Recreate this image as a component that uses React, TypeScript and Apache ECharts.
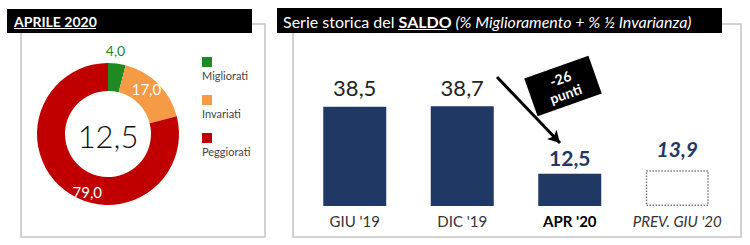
import React, { useEffect, useRef } from "react";
import * as echarts from "echarts";

const FONT = "Lato, 'Open Sans', sans-serif";

// Donut data
const pieNames = ["Migliorati", "Invariati", "Peggiorati"];
const pieValues = [4.0, 17.0, 79.0];
const pieColors = ["#1E8A22", "#F59A45", "#C00000"];

// Bar data
const barCategories = ["GIU '19", "DIC '19", "APR '20", "PREV. GIU '20"];
const barValues = [38.5, 38.7, 12.5, 13.9];
const saldoCentre = 12.5;
const deltaLabel = ["-26", "punti"];

const fmt = (v: number) => v.toFixed(1).replace(".", ",");

export default function App() {
  const ref = useRef<HTMLDivElement>(null);
  useEffect(() => {
    if (!ref.current) return;
    const chart = echarts.init(ref.current, null, { renderer: "svg" });
    const navy = "#1F3864";

    const legendGraphics: any[] = [];
    pieNames.forEach((n, i) => {
      legendGraphics.push({
        type: "rect",
        shape: { x: 202, y: 57 + i * 38, width: 10, height: 10 },
        style: { fill: pieColors[i] },
      });
      legendGraphics.push({
        type: "text",
        x: 202,
        y: 75 + i * 38,
        style: {
          text: n,
          fill: "#444",
          font: `11px ${FONT}`,
          textAlign: "left",
          textVerticalAlign: "middle",
        },
      });
    });

    const option: any = {
      animation: false,
      textStyle: { fontFamily: FONT },
      grid: { left: 301, right: 19, top: 77, bottom: 39 },
      xAxis: {
        type: "category",
        data: barCategories.map((c, i) => ({
          value: c,
          textStyle:
            i === 2
              ? { fontWeight: "bold", color: "#000" }
              : i === 3
              ? { fontStyle: "italic", color: "#333" }
              : { color: "#333" },
        })),
        axisLine: { show: false },
        axisTick: { show: false },
        axisLabel: { fontSize: 15, margin: 7, fontFamily: FONT, interval: 0 },
      },
      yAxis: { type: "value", min: 0, max: 50, show: false, splitLine: { show: false } },
      series: [
        {
          type: "bar",
          barWidth: 63,
          data: barValues.map((v, i) => {
            if (i === 3) {
              return {
                value: v,
                itemStyle: { color: "#fff", borderColor: "#777", borderType: "dotted", borderWidth: 1.5 },
                label: { color: navy, fontWeight: "bold", fontStyle: "italic", fontSize: 21, distance: 11 },
              };
            }
            if (i === 2) {
              return {
                value: v,
                itemStyle: { color: navy },
                label: { color: navy, fontWeight: "bold", fontSize: 21, distance: 6 },
              };
            }
            return { value: v, itemStyle: { color: navy } };
          }),
          label: {
            show: true,
            position: "top",
            distance: 8,
            fontSize: 22,
            color: "#222",
            fontFamily: FONT,
            formatter: (p: any) => fmt(p.value),
          },
          markLine: {
            silent: true,
            symbol: ["none", "arrow"],
            symbolSize: [10, 12],
            label: { show: false },
            lineStyle: { color: "#000", width: 3, type: "solid" },
            data: [[{ x: 497, y: 77 }, { x: 560, y: 143 }]],
          },
        },
        {
          type: "pie",
          center: [108, 134],
          radius: [43, 71],
          startAngle: 90,
          clockwise: true,
          silent: true,
          data: pieNames.map((n, i) => ({
            name: n,
            value: pieValues[i],
            itemStyle: { color: pieColors[i] },
            label:
              i === 0
                ? { color: pieColors[0], fontSize: 14 }
                : { color: "#fff", fontSize: 15 },
          })),
          label: {
            show: true,
            position: "inside",
            fontFamily: FONT,
            formatter: (p: any) => fmt(p.value),
          },
          labelLine: { show: false },
          labelLayout: (p: any) => {
            if (p.dataIndex === 0) return { dy: -24 };
            if (p.dataIndex === 1) return { dx: -4, dy: -3 };
            if (p.dataIndex === 2) return { dx: 16, dy: 11 };
            return {};
          },
        },
      ],
      graphic: [
        // panel borders
        {
          type: "rect",
          shape: { x: 21, y: 24, width: 244, height: 213 },
          style: { fill: "none", stroke: "#c4c4c4", lineWidth: 1.5 },
          z: 0,
        },
        {
          type: "rect",
          shape: { x: 293, y: 24, width: 448, height: 213 },
          style: { fill: "none", stroke: "#c4c4c4", lineWidth: 1.5 },
          z: 0,
        },
        // headers
        {
          type: "rect",
          shape: { x: 7, y: 9, width: 245, height: 24 },
          style: { fill: "#000" },
          z: 1,
        },
        {
          type: "text",
          x: 14,
          y: 21,
          z: 2,
          style: {
            text: "APRILE 2020",
            fill: "#fff",
            font: `bold 14px ${FONT}`,
            textVerticalAlign: "middle",
          },
        },
        {
          type: "line",
          shape: { x1: 14, y1: 28.5, x2: 96, y2: 28.5 },
          style: { stroke: "#fff", lineWidth: 1 },
          z: 2,
        },
        {
          type: "rect",
          shape: { x: 277, y: 8, width: 445, height: 25 },
          style: { fill: "#000" },
          z: 1,
        },
        {
          type: "text",
          x: 283,
          y: 21,
          z: 2,
          style: {
            text: "{n|Serie storica del }{b|SALDO}{i| (% Miglioramento + % ½ Invarianza)}",
            textVerticalAlign: "middle",
            rich: {
              n: { fill: "#fff", fontSize: 16, fontFamily: FONT },
              b: { fill: "#fff", fontSize: 16, fontWeight: "bold", fontFamily: FONT },
              i: { fill: "#fff", fontSize: 16, fontStyle: "italic", fontFamily: FONT },
            },
          },
        },
        {
          type: "line",
          shape: { x1: 398, y1: 29.5, x2: 447, y2: 29.5 },
          style: { stroke: "#fff", lineWidth: 1 },
          z: 2,
        },
        // donut centre value
        {
          type: "text",
          x: 108,
          y: 136,
          z: 3,
          style: {
            text: fmt(saldoCentre),
            fill: "#111",
            font: `300 31px ${FONT}`,
            textAlign: "center",
            textVerticalAlign: "middle",
          },
        },
        ...legendGraphics,
        // -26 punti box
        {
          type: "group",
          x: 563,
          y: 86,
          rotation: 0.34,
          z: 5,
          children: [
            { type: "rect", shape: { x: -34, y: -20, width: 68, height: 40 }, style: { fill: "#000" } },
            {
              type: "text",
              x: 0,
              y: 0,
              style: {
                text: deltaLabel.join("\n"),
                fill: "#fff",
                font: `bold 14px ${FONT}`,
                lineHeight: 16,
                textAlign: "center",
                textVerticalAlign: "middle",
              },
            },
          ],
        },
      ],
    };
    chart.setOption(option);
    return () => chart.dispose();
  }, []);
  return (
    <div
      ref={ref}
      style={{ position: "fixed", left: 0, top: 0, width: 750, height: 245, background: "#fff" }}
    />
  );
}
